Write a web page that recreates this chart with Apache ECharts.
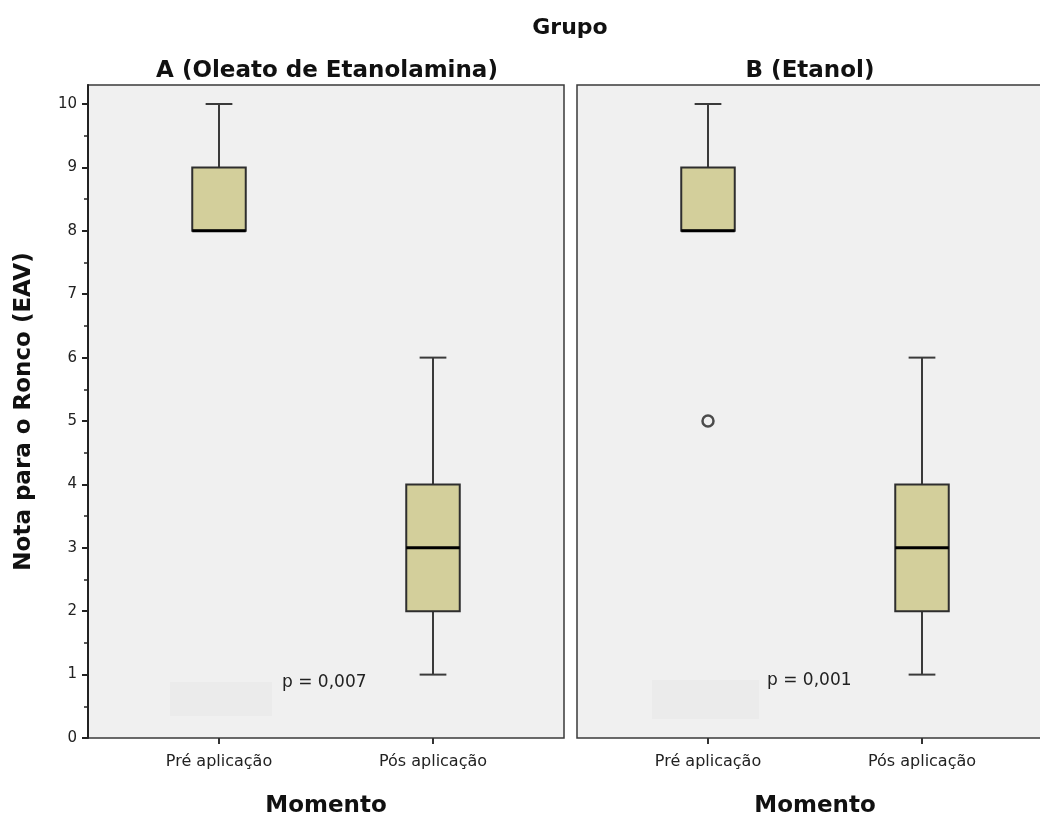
<!DOCTYPE html>
<html>
<head>
<meta charset="utf-8">
<script src="https://cdn.jsdelivr.net/npm/echarts@6/dist/echarts.min.js"></script>
<style>
  html, body { margin: 0; padding: 0; background: #fff; }
  #main { width: 1040px; height: 817px; }
</style>
</head>
<body>
<div id="main"></div>
<script>
// categories and values
var categories = ["Pré aplicação", "Pós aplicação"];
// [category index, min, Q1, median, Q3, max]
var boxA = [[0, 8, 8, 8, 9, 10], [1, 1, 2, 3, 4, 6]];
var boxB = [[0, 8, 8, 8, 9, 10], [1, 1, 2, 3, 4, 6]];
var outliersB = [[0, 5]];
var yTicks = [0, 1, 2, 3, 4, 5, 6, 7, 8, 9, 10];
var yMinorTicks = [0.5, 1.5, 2.5, 3.5, 4.5, 5.5, 6.5, 7.5, 8.5, 9.5];
var pValues = ["p = 0,007", "p = 0,001"];

var FONT = "DejaVu Sans";
var yMax = 10.3;

var chart = echarts.init(document.getElementById("main"));

// draw one box with whiskers, caps are half the box width
function renderBox(params, api) {
  var x = api.value(0);
  var band = api.size([1, 0])[0];
  var bw = band * 0.25;
  var cw = bw / 2;
  var pMin = api.coord([x, api.value(1)]);
  var pQ1 = api.coord([x, api.value(2)]);
  var pMed = api.coord([x, api.value(3)]);
  var pQ3 = api.coord([x, api.value(4)]);
  var pMax = api.coord([x, api.value(5)]);
  var cx = pMed[0];
  var lineStyle = { stroke: "#3a3a3a", lineWidth: 2 };
  var children = [];
  if (pMax[1] < pQ3[1]) {
    children.push({ type: "line", shape: { x1: cx, y1: pQ3[1], x2: cx, y2: pMax[1] }, style: lineStyle });
    children.push({ type: "line", shape: { x1: cx - cw / 2, y1: pMax[1], x2: cx + cw / 2, y2: pMax[1] }, style: lineStyle });
  }
  if (pMin[1] > pQ1[1]) {
    children.push({ type: "line", shape: { x1: cx, y1: pQ1[1], x2: cx, y2: pMin[1] }, style: lineStyle });
    children.push({ type: "line", shape: { x1: cx - cw / 2, y1: pMin[1], x2: cx + cw / 2, y2: pMin[1] }, style: lineStyle });
  }
  children.push({
    type: "rect",
    shape: { x: cx - bw / 2, y: pQ3[1], width: bw, height: pQ1[1] - pQ3[1] },
    style: { fill: "#d3cf9b", stroke: "#2e2e2e", lineWidth: 2 }
  });
  children.push({
    type: "line",
    shape: { x1: cx - bw / 2, y1: pMed[1], x2: cx + bw / 2, y2: pMed[1] },
    style: { stroke: "#000", lineWidth: 3 }
  });
  return { type: "group", children: children };
}

function frameGrid(left) {
  return {
    left: left, top: 85, width: 476, height: 653, outerBoundsMode: "none", containLabel: false,
    show: true, backgroundColor: "#f0f0f0", borderColor: "#3a3a3a", borderWidth: 1.5
  };
}
function dataGrid(left) {
  return { left: left, top: 85, width: 428, height: 653, outerBoundsMode: "none", containLabel: false };
}
function catAxis(gridIndex) {
  return {
    type: "category", gridIndex: gridIndex, data: categories, boundaryGap: true,
    axisLine: { show: false },
    axisTick: { show: true, alignWithLabel: true, length: 6, lineStyle: { color: "#333", width: 2 } },
    axisLabel: { color: "#222", fontFamily: FONT, fontSize: 16, margin: 16 },
    splitLine: { show: false },
    name: "Momento", nameLocation: "middle", nameGap: 57,
    nameTextStyle: { color: "#111", fontFamily: FONT, fontSize: 23, fontWeight: "bold" }
  };
}
function hiddenValue(gridIndex) {
  return { type: "value", gridIndex: gridIndex, min: 0, max: yMax, show: false };
}

var option = {
  backgroundColor: "#fff",
  animation: false,
  grid: [frameGrid(88), dataGrid(112), frameGrid(577), dataGrid(601)],
  xAxis: [
    { type: "value", gridIndex: 0, show: false },
    catAxis(1),
    { type: "value", gridIndex: 2, show: false },
    catAxis(3)
  ],
  yAxis: [
    {
      type: "value", gridIndex: 0, position: "left", min: 0, max: yMax,
      axisLine: { show: true, lineStyle: { color: "#222", width: 2 } },
      axisTick: { show: true, length: 6, customValues: yTicks, lineStyle: { color: "#222", width: 2 } },
      axisLabel: { customValues: yTicks, color: "#222", fontFamily: FONT, fontSize: 15, margin: 11 },
      splitLine: { show: false },
      name: "Nota para o Ronco (EAV)", nameLocation: "middle", nameGap: 52,
      nameTextStyle: { color: "#111", fontFamily: FONT, fontSize: 23, fontWeight: "bold" }
    },
    {
      type: "value", gridIndex: 0, position: "left", min: 0, max: yMax,
      axisLine: { show: false },
      axisTick: { show: true, length: 4, customValues: yMinorTicks, lineStyle: { color: "#222", width: 1.5 } },
      axisLabel: { show: false },
      splitLine: { show: false }
    },
    hiddenValue(1),
    hiddenValue(2),
    hiddenValue(3)
  ],
  series: [
    { type: "custom", xAxisIndex: 1, yAxisIndex: 2, renderItem: renderBox, data: boxA, clip: false },
    { type: "custom", xAxisIndex: 3, yAxisIndex: 4, renderItem: renderBox, data: boxB, clip: false },
    {
      type: "scatter", xAxisIndex: 3, yAxisIndex: 4, data: outliersB,
      symbol: "circle", symbolSize: 11,
      itemStyle: { color: "#f0f0f0", borderColor: "#222", borderWidth: 2.5 }
    }
  ],
  graphic: [
    { type: "text", x: 570, y: 28, style: { text: "Grupo", fill: "#111", font: "bold 22px " + FONT, textAlign: "center", textVerticalAlign: "middle" } },
    { type: "text", x: 327, y: 71, style: { text: "A (Oleato de Etanolamina)", fill: "#111", font: "bold 23px " + FONT, textAlign: "center", textVerticalAlign: "middle" } },
    { type: "text", x: 810, y: 71, style: { text: "B (Etanol)", fill: "#111", font: "bold 23px " + FONT, textAlign: "center", textVerticalAlign: "middle" } },
    { type: "rect", shape: { x: 170, y: 682, width: 102, height: 34 }, style: { fill: "#ebebeb" } },
    { type: "rect", shape: { x: 652, y: 680, width: 107, height: 39 }, style: { fill: "#ebebeb" } },
    { type: "text", x: 282, y: 683, style: { text: pValues[0], fill: "#222", font: "17px " + FONT, textVerticalAlign: "middle" } },
    { type: "text", x: 767, y: 681, style: { text: pValues[1], fill: "#222", font: "17px " + FONT, textVerticalAlign: "middle" } }
  ]
};

chart.setOption(option);
</script>
</body>
</html>
